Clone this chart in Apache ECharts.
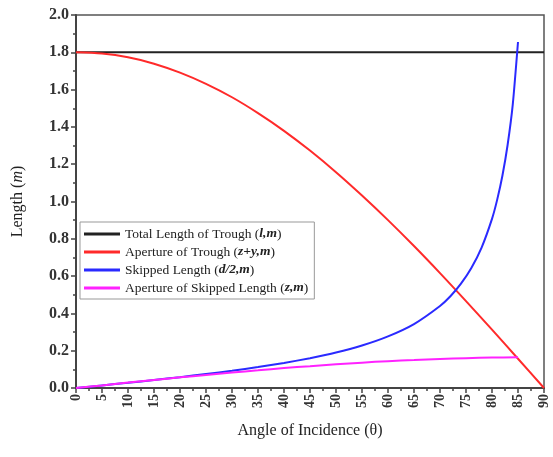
<!DOCTYPE html>
<html>
<head>
<meta charset="utf-8">
<script src="https://cdn.jsdelivr.net/npm/echarts@6/dist/echarts.min.js"></script>
<style>
    html, body { margin: 0; padding: 0; background: #fff; }
    #chart { width: 553px; height: 457px; }
</style>
</head>
<body>
<div id="chart"></div>
<script>
// angles (deg) and values
var troughAngles = [0, 5, 10, 15, 20, 25, 30, 35, 40, 45, 50, 55, 60, 65, 70, 75, 80, 85, 90];
var totalLength = [1.8, 1.8, 1.8, 1.8, 1.8, 1.8, 1.8, 1.8, 1.8, 1.8, 1.8, 1.8, 1.8, 1.8, 1.8, 1.8, 1.8, 1.8, 1.8];
var apertureTrough = [1.8, 1.793, 1.773, 1.739, 1.691, 1.631, 1.559, 1.474, 1.379, 1.273, 1.157, 1.032, 0.9, 0.761, 0.616, 0.466, 0.313, 0.157, 0];

var skipAngles = [0, 5, 10, 15, 20, 25, 30, 35, 40, 45, 50, 55, 60, 65, 70, 72, 74, 76, 78, 80, 81, 82, 83, 84, 85];
var skippedLength = [0, 0.014, 0.028, 0.043, 0.058, 0.075, 0.092, 0.112, 0.134, 0.16, 0.19, 0.228, 0.277, 0.343, 0.44, 0.492, 0.558, 0.642, 0.753, 0.907, 1.01, 1.138, 1.303, 1.522, 1.855];

var apAngles = [0, 5, 10, 15, 20, 25, 30, 35, 40, 45, 50, 55, 60, 65, 70, 75, 80, 85];
var apertureSkipped = [0, 0.014, 0.029, 0.043, 0.057, 0.07, 0.083, 0.095, 0.107, 0.117, 0.127, 0.136, 0.144, 0.15, 0.156, 0.16, 0.163, 0.165];

var seriesNames = [
    "Total Length of Trough (l,m)",
    "Aperture of Trough (z+y,m)",
    "Skipped Length (d/2,m)",
    "Aperture of Skipped Length (z,m)"
];
var legendRich = {
    0: "{a|Total Length of Trough (}{i|l,m}{a|)}",
    1: "{a|Aperture of Trough (}{i|z+y,m}{a|)}",
    2: "{a|Skipped Length (}{i|d/2,m}{a|)}",
    3: "{a|Aperture of Skipped Length (}{i|z,m}{a|)}"
};

function pairs(xs, ys) {
    return xs.map(function (x, i) { return [x, ys[i]]; });
}

var font = "Liberation Serif";
var chart = echarts.init(document.getElementById("chart"));

var option = {
    backgroundColor: "#fff",
    animation: false,
    grid: {
        left: 76, right: 9, top: 15, bottom: 69,
        show: true, borderColor: "#555", borderWidth: 1.5
    },
    legend: {
        orient: "vertical",
        left: 80, top: 222,
        icon: "rect",
        itemWidth: 36, itemHeight: 3,
        itemGap: 4,
        padding: [5, 6, 4, 4],
        borderColor: "#999", borderWidth: 1,
        data: seriesNames,
        formatter: function (name) {
            return legendRich[seriesNames.indexOf(name)];
        },
        textStyle: {
            fontFamily: font, fontSize: 13.5, color: "#222",
            rich: {
                a: { fontFamily: font, fontSize: 13.5, color: "#222" },
                i: { fontFamily: font, fontSize: 13.5, color: "#222", fontStyle: "italic", fontWeight: "bold" }
            }
        }
    },
    xAxis: {
        type: "value",
        min: 0, max: 90, interval: 5,
        name: "Angle of Incidence (\u03b8)",
        nameLocation: "middle",
        nameGap: 35,
        nameTextStyle: { fontFamily: font, fontSize: 16, color: "#222" },
        axisLine: { lineStyle: { color: "#444", width: 2 } },
        axisTick: { inside: false, length: 5, lineStyle: { color: "#444", width: 1.5 } },
        minorTick: { show: true, splitNumber: 2, length: 3, lineStyle: { color: "#444", width: 1.5 } },
        splitLine: { show: false },
        axisLabel: {
            rotate: 90, margin: 6,
            fontFamily: font, fontSize: 14, fontWeight: "bold", color: "#333"
        }
    },
    yAxis: {
        type: "value",
        min: 0, max: 2, interval: 0.2,
        name: "{a|Length (}{i|m}{a|)}",
        nameLocation: "middle",
        nameGap: 50,
        nameTextStyle: {
            rich: {
                a: { fontFamily: font, fontSize: 16, color: "#222" },
                i: { fontFamily: font, fontSize: 16, color: "#222", fontStyle: "italic" }
            }
        },
        axisLine: { show: true, lineStyle: { color: "#444", width: 2 } },
        axisTick: { show: true, inside: false, length: 5, lineStyle: { color: "#444", width: 1.5 } },
        minorTick: { show: true, splitNumber: 2, length: 3, lineStyle: { color: "#444", width: 1.5 } },
        splitLine: { show: false },
        axisLabel: {
            margin: 7,
            fontFamily: font, fontSize: 16, fontWeight: "bold", color: "#333",
            formatter: function (v) { return v.toFixed(1); }
        }
    },
    series: [
        {
            name: seriesNames[0], type: "line", showSymbol: false,
            data: pairs(troughAngles, totalLength),
            lineStyle: { color: "#222", width: 2 }, itemStyle: { color: "#222" }
        },
        {
            name: seriesNames[1], type: "line", showSymbol: false, smooth: 0.3,
            data: pairs(troughAngles, apertureTrough),
            lineStyle: { color: "#ff2a2a", width: 2 }, itemStyle: { color: "#ff2a2a" }
        },
        {
            name: seriesNames[2], type: "line", showSymbol: false, smooth: 0.2,
            data: pairs(skipAngles, skippedLength),
            lineStyle: { color: "#2a2aff", width: 2 }, itemStyle: { color: "#2a2aff" }
        },
        {
            name: seriesNames[3], type: "line", showSymbol: false, smooth: 0.3,
            data: pairs(apAngles, apertureSkipped),
            lineStyle: { color: "#ff22ff", width: 2 }, itemStyle: { color: "#ff22ff" }
        }
    ]
};

chart.setOption(option);
</script>
</body>
</html>
